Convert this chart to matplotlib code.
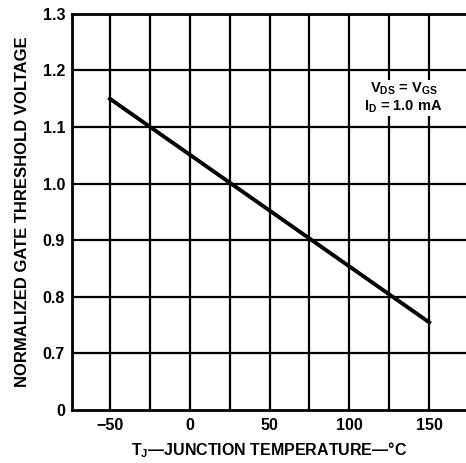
import matplotlib
matplotlib.use("Agg")
import matplotlib.pyplot as plt

# curve data
temp_c = [-50, 150]
vth_norm = [1.15, 0.755]

x_ticks = [-50, 0, 50, 100, 150]
x_tick_labels = ["\u221250", "0", "50", "100", "150"]
x_grid = [-50, -25, 0, 25, 50, 75, 100, 125, 150]
y_ticks = [0.6, 0.7, 0.8, 0.9, 1.0, 1.1, 1.2, 1.3]
y_tick_labels = ["0", "0.7", "0.8", "0.9", "1.0", "1.1", "1.2", "1.3"]

plt.rcParams["font.family"] = ["Liberation Sans", "DejaVu Sans"]
plt.rcParams["font.weight"] = "bold"
plt.rcParams["mathtext.fontset"] = "custom"
plt.rcParams["mathtext.rm"] = "Liberation Sans:bold"
plt.rcParams["mathtext.it"] = "Liberation Sans:bold"
plt.rcParams["mathtext.bf"] = "Liberation Sans:bold"

fig = plt.figure(figsize=(4.66, 4.63), dpi=100)
ax = fig.add_axes([0.1545, 0.1145, 0.8455, 0.8555])

for xv in x_grid:
    ax.axvline(xv, color="black", lw=1.6, zorder=1)
for yv in y_ticks[1:]:
    ax.axhline(yv, color="black", lw=1.6, zorder=1)

ax.plot(temp_c, vth_norm, color="black", lw=2.8, zorder=3)

ax.set_xlim(-73.75, 173.1)
ax.set_ylim(0.6, 1.3)
ax.set_xticks(x_ticks)
ax.set_xticklabels(x_tick_labels)
ax.set_yticks(y_ticks)
ax.set_yticklabels(y_tick_labels)
ax.tick_params(axis="x", length=0, labelsize=11.5, pad=6)
ax.tick_params(axis="y", length=0, labelsize=11.5, pad=5)
for lab in ax.get_xticklabels() + ax.get_yticklabels():
    lab.set_fontweight("bold")

ax.spines["right"].set_visible(False)
for s in ["left", "bottom", "top"]:
    ax.spines[s].set_linewidth(2)

ax.text(134, 1.152, "V$_{\\mathrm{DS}}$ = V$_{\\mathrm{GS}}$\nI$_{\\mathrm{D}}$ = 1.0 mA",
        ha="center", va="center", fontsize=10.5, fontweight="bold", linespacing=1.15,
        bbox=dict(facecolor="white", edgecolor="none", pad=0.5), zorder=4)

ax.set_xlabel("T$_{\\mathrm{J}}$\u2014JUNCTION TEMPERATURE\u2014\u00b0C", fontsize=11.5,
              fontweight="bold", labelpad=5)
ax.set_ylabel("NORMALIZED GATE THRESHOLD VOLTAGE", fontsize=12,
              fontweight="bold", labelpad=9)

fig.savefig("out.png", dpi=100)
